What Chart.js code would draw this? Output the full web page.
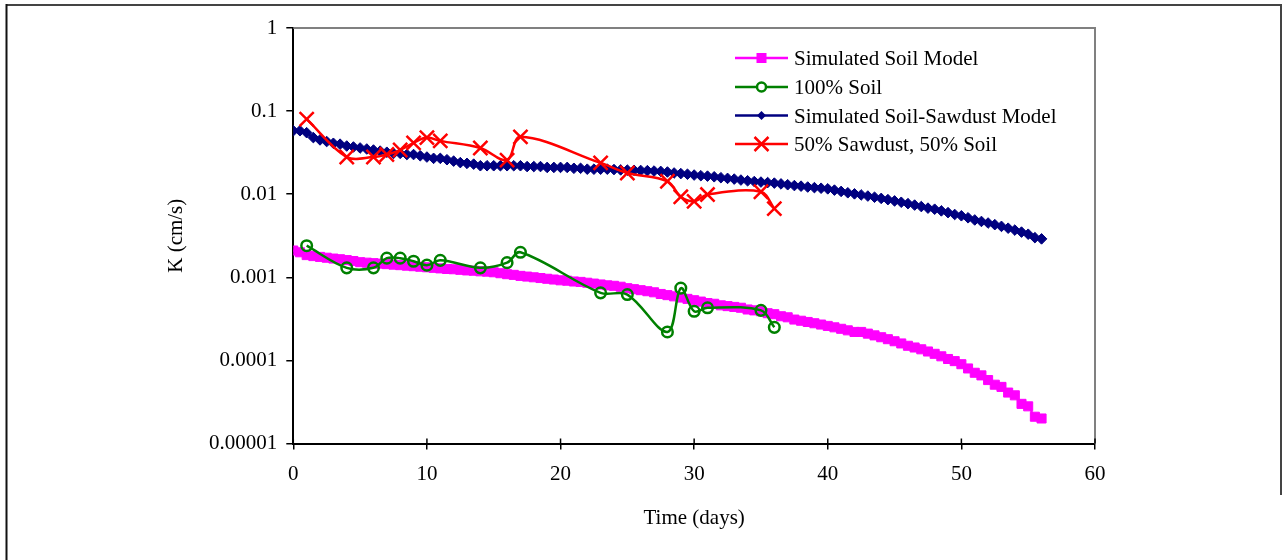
<!DOCTYPE html>
<html><head><meta charset="utf-8">
<script src="https://cdn.jsdelivr.net/npm/chart.js@4/dist/chart.umd.min.js"></script>
<style>html,body{margin:0;padding:0;background:#fff;}canvas{display:block}</style>
</head><body>
<canvas id="c" width="1288" height="560"></canvas>
<script>
// ---------- data ----------
const simTime = [0,0.5,1,1.5,2,2.5,3,3.5,4,4.5,5,5.5,6,6.5,7,7.5,8,8.5,9,9.5,10,10.5,11,11.5,12,12.5,13,13.5,14,14.5,15,15.5,16,16.5,17,17.5,18,18.5,19,19.5,20,20.5,21,21.5,22,22.5,23,23.5,24,24.5,25,25.5,26,26.5,27,27.5,28,28.5,29,29.5,30,30.5,31,31.5,32,32.5,33,33.5,34,34.5,35,35.5,36,36.5,37,37.5,38,38.5,39,39.5,40,40.5,41,41.5,42,42.5,43,43.5,44,44.5,45,45.5,46,46.5,47,47.5,48,48.5,49,49.5,50,50.5,51,51.5,52,52.5,53,53.5,54,54.5,55,55.5,56];
const simSoilK = [0.0021,0.0020,0.00185,0.00180,0.00176,0.00172,0.00168,0.00165,0.00161,0.00157,0.00152,0.00150,0.00148,0.00146,0.00144,0.00142,0.00140,0.00138,0.00136,0.00134,0.00132,0.00130,0.00128,0.00126,0.00125,0.00123,0.00121,0.00120,0.00118,0.00117,0.00115,0.00112,0.00109,0.00107,0.00104,0.00102,0.00100,0.00098,0.00096,0.00094,0.00092,0.00091,0.00089,0.00088,0.00086,0.00084,0.00082,0.00080,0.00079,0.00077,0.00074,0.00072,0.00070,0.00068,0.00066,0.00063,0.00061,0.00059,0.00057,0.00055,0.00053,0.00051,0.00049,0.00048,0.00046,0.00045,0.00044,0.00043,0.00041,0.00040,0.00039,0.00037,0.00036,0.00034,0.00033,0.00031,0.00030,0.00029,0.00028,0.00027,0.00026,0.00025,0.00024,0.00023,0.00022,0.00022,0.00021,0.00020,0.00019,0.00018,0.00017,0.00016,0.00015,0.000143,0.000136,0.000128,0.00012,0.000112,0.000104,0.000098,0.000090,0.00008,0.000071,0.000066,0.000058,0.000051,0.000048,0.000041,0.000038,0.00003,0.000028,0.000021,0.00002];
const simSawdustK = [0.058,0.058,0.055,0.048,0.045,0.043,0.041,0.040,0.038,0.037,0.036,0.035,0.034,0.033,0.032,0.031,0.031,0.030,0.030,0.029,0.028,0.027,0.027,0.026,0.025,0.024,0.0235,0.023,0.022,0.022,0.022,0.022,0.022,0.022,0.022,0.0215,0.0215,0.0215,0.021,0.021,0.021,0.021,0.0205,0.0205,0.020,0.020,0.020,0.020,0.0198,0.0196,0.0195,0.0194,0.0193,0.0192,0.019,0.0188,0.0185,0.018,0.0177,0.0174,0.017,0.0167,0.0165,0.0162,0.0158,0.0155,0.0152,0.0148,0.0145,0.0142,0.014,0.0138,0.0136,0.0133,0.013,0.0127,0.0125,0.0122,0.012,0.0118,0.0116,0.0112,0.0108,0.0104,0.0101,0.0098,0.0095,0.0092,0.0089,0.0086,0.0083,0.0080,0.0077,0.0074,0.0071,0.0068,0.0066,0.0063,0.0060,0.0057,0.0055,0.0052,0.0049,0.0047,0.0045,0.0043,0.0041,0.0039,0.0037,0.0035,0.0033,0.0030,0.0029];
const measTime = [1,4,6,7,8,9,10,11,14,16,17,23,25,28,29,30,31,35,36];
const soilK = [0.0024,0.0013,0.0013,0.0017,0.0017,0.00156,0.0014,0.0016,0.0013,0.0015,0.002,0.00065,0.00062,0.00022,0.00074,0.00039,0.00043,0.0004,0.00025];
const mixK = [0.080,0.028,0.028,0.030,0.034,0.0415,0.048,0.0438,0.036,0.0257,0.049,0.0238,0.018,0.0143,0.0093,0.0082,0.0099,0.0107,0.0067];
const seriesNames = ['Simulated Soil Model','100% Soil','Simulated Soil-Sawdust Model','50% Sawdust, 50% Soil'];
const yTickValues = [1,0.1,0.01,0.001,0.0001,0.00001];
const yTickLabels = ['1','0.1','0.01','0.001','0.0001','0.00001'];
const xTickValues = [0,10,20,30,40,50,60];
const xTitle = 'Time (days)';
const yTitle = 'K (cm/s)';

const pts = (xs, ys) => xs.map((x, i) => ({x: x, y: ys[i]}));
const FONT = '"Liberation Serif", "Times New Roman", serif';

// ---------- plugins ----------
const framePlugin = {
  id: 'frame',
  beforeDraw(chart) {
    const ctx = chart.ctx;
    ctx.save();
    ctx.fillStyle = '#fff';
    ctx.fillRect(0, 0, chart.width, chart.height);
    ctx.lineWidth = 2;
    ctx.strokeStyle = '#444';
    ctx.beginPath(); ctx.moveTo(6, 5); ctx.lineTo(1282, 5); ctx.stroke();
    ctx.strokeStyle = '#111';
    ctx.beginPath(); ctx.moveTo(6.5, 4); ctx.lineTo(6.5, 560); ctx.stroke();
    ctx.strokeStyle = '#444';
    ctx.beginPath(); ctx.moveTo(1281, 4); ctx.lineTo(1281, 495); ctx.stroke();
    ctx.restore();
  },
  afterDraw(chart) {
    const ctx = chart.ctx, a = chart.chartArea, xs = chart.scales.x;
    ctx.save();
    ctx.strokeStyle = '#808080';
    ctx.lineWidth = 2;
    ctx.beginPath(); ctx.moveTo(a.left, a.top); ctx.lineTo(a.right, a.top); ctx.lineTo(a.right, a.bottom); ctx.stroke();
    ctx.strokeStyle = '#000';
    ctx.lineWidth = 1.5;
    xTickValues.forEach(v => {
      const px = xs.getPixelForValue(v);
      ctx.beginPath(); ctx.moveTo(px, a.bottom - 5); ctx.lineTo(px, a.bottom); ctx.stroke();
    });
    // legend
    const rows = [58, 87, 115.5, 144];
    ctx.font = '21px ' + FONT;
    ctx.textBaseline = 'alphabetic';
    ctx.textAlign = 'left';
    chart.data.datasets.forEach((ds, i) => {
      const y = rows[i];
      ctx.strokeStyle = ds.borderColor;
      ctx.lineWidth = 2.5;
      ctx.beginPath(); ctx.moveTo(735, y); ctx.lineTo(788, y); ctx.stroke();
      const cx = 761.5;
      if (ds.pointStyle === 'rect') {
        ctx.fillStyle = ds.borderColor; ctx.fillRect(cx - 5, y - 5, 10, 10);
      } else if (ds.pointStyle === 'circle') {
        ctx.fillStyle = '#fff'; ctx.beginPath(); ctx.arc(cx, y, 4.5, 0, Math.PI * 2); ctx.fill(); ctx.stroke();
      } else if (ds.pointStyle === 'rectRot') {
        ctx.fillStyle = ds.borderColor; ctx.beginPath();
        ctx.moveTo(cx, y - 4.5); ctx.lineTo(cx + 4.5, y); ctx.lineTo(cx, y + 4.5); ctx.lineTo(cx - 4.5, y); ctx.closePath(); ctx.fill();
      } else {
        ctx.beginPath(); ctx.moveTo(cx - 7, y - 7); ctx.lineTo(cx + 7, y + 7);
        ctx.moveTo(cx + 7, y - 7); ctx.lineTo(cx - 7, y + 7); ctx.stroke();
      }
      ctx.fillStyle = '#000';
      ctx.fillText(ds.label, 794, y + 7);
    });
    ctx.restore();
  }
};

// ---------- chart ----------
new Chart(document.getElementById('c'), {
  type: 'line',
  data: {
    datasets: [
      { label: seriesNames[0], data: pts(simTime, simSoilK), borderColor: '#FF00FF', backgroundColor: '#FF00FF',
        borderWidth: 2, pointStyle: 'rect', pointRadius: 6.4, pointBorderWidth: 1, tension: 0, order: 2 },
      { label: seriesNames[1], data: pts(measTime, soilK), borderColor: '#008000', backgroundColor: 'rgba(0,0,0,0)',
        borderWidth: 2.5, pointStyle: 'circle', pointRadius: 5.3, pointBorderWidth: 2.5, tension: 0.35, order: 0 },
      { label: seriesNames[2], data: pts(simTime, simSawdustK), borderColor: '#000080', backgroundColor: '#000080',
        borderWidth: 2, pointStyle: 'rectRot', pointRadius: 5.3, pointBorderWidth: 1, tension: 0, order: 3 },
      { label: seriesNames[3], data: pts(measTime, mixK), borderColor: '#FF0000', backgroundColor: '#FF0000',
        borderWidth: 2.5, pointStyle: 'crossRot', pointRadius: 10, pointBorderWidth: 2.5, tension: 0.35, order: 1 }
    ]
  },
  options: {
    responsive: false,
    animation: false,
    events: [],
    layout: { padding: { left: 0, right: 193, top: 28, bottom: 0 } },
    plugins: { legend: { display: false }, tooltip: { enabled: false } },
    scales: {
      x: {
        type: 'linear', min: 0, max: 60,
        afterFit(s) { s.height = 116.5; },
        afterBuildTicks(s) { s.ticks = xTickValues.map(v => ({value: v})); },
        ticks: { color: '#000', font: { family: FONT, size: 21 }, padding: 12, maxRotation: 0, autoSkip: false },
        grid: { drawOnChartArea: false, drawTicks: true, tickLength: 6, color: '#000', lineWidth: 1.5 },
        border: { display: true, color: '#000', width: 2 },
        title: { display: true, text: xTitle, color: '#000', font: { family: FONT, size: 21 }, padding: { top: 0, bottom: 29 } }
      },
      y: {
        type: 'logarithmic', min: 0.00001, max: 1,
        afterFit(s) { s.width = 293.3; },
        afterBuildTicks(s) { s.ticks = yTickValues.map(v => ({value: v})); },
        ticks: { color: '#000', font: { family: FONT, size: 21 }, padding: 9, autoSkip: false,
          callback: (v) => { const i = yTickValues.findIndex(t => Math.abs(t - v) / t < 1e-6); return i >= 0 ? yTickLabels[i] : ''; } },
        grid: { drawOnChartArea: false, drawTicks: true, tickLength: 7, color: '#000', lineWidth: 1.5 },
        border: { display: true, color: '#000', width: 2 },
        title: { display: true, text: yTitle, color: '#000', font: { family: FONT, size: 21 }, padding: { top: 164, bottom: 0 } }
      }
    }
  },
  plugins: [framePlugin]
});
</script>
</body></html>
